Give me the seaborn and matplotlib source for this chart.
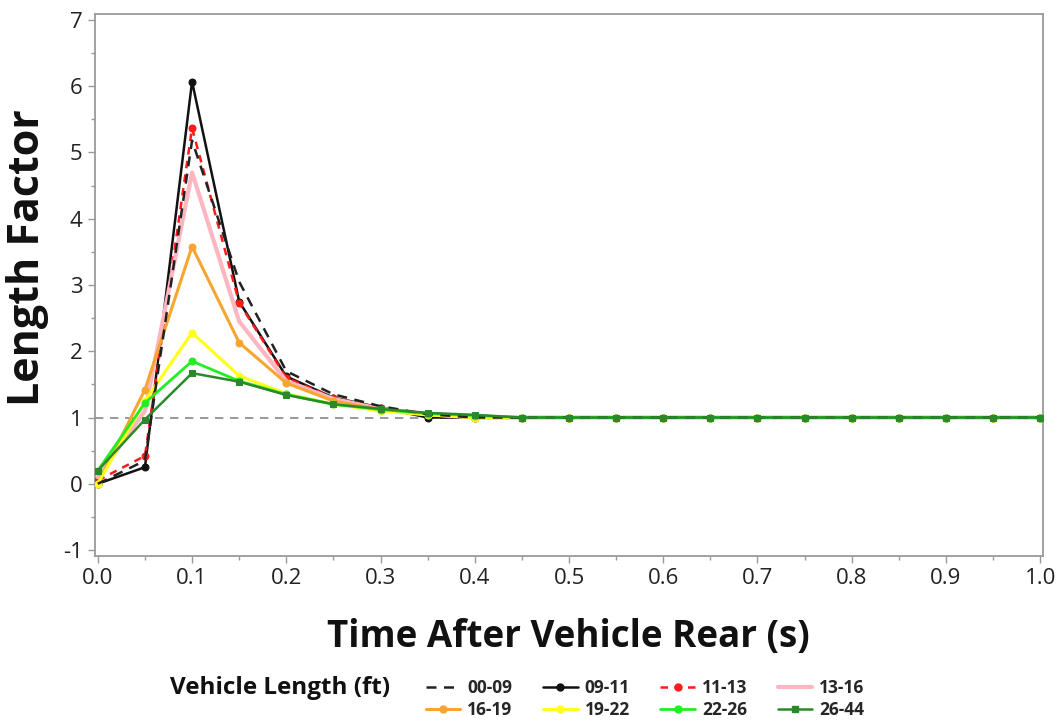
import numpy as np
import pandas as pd
import seaborn as sns
import matplotlib
matplotlib.use("Agg")
import matplotlib.pyplot as plt
from matplotlib.ticker import MultipleLocator
from matplotlib.lines import Line2D

# ---- data ----
time_s = [0.0, 0.05, 0.1, 0.15, 0.2, 0.25, 0.3, 0.35, 0.4, 0.45, 0.5,
          0.55, 0.6, 0.65, 0.7, 0.75, 0.8, 0.85, 0.9, 0.95, 1.0]
tail = [1.0] * 12
lf_00_09 = [0.0, 0.35, 5.18, 3.05, 1.70, 1.35, 1.17, 1.05, 1.00] + tail
lf_09_11 = [0.0, 0.25, 6.07, 2.75, 1.62, 1.30, 1.15, 1.00, 1.00] + tail
lf_11_13 = [0.05, 0.42, 5.37, 2.73, 1.60, 1.30, 1.15, 1.05, 1.00] + tail
lf_13_16 = [0.10, 1.10, 4.70, 2.45, 1.55, 1.28, 1.13, 1.05, 1.00] + tail
lf_16_19 = [0.0, 1.42, 3.58, 2.13, 1.52, 1.25, 1.12, 1.05, 1.00] + tail
lf_19_22 = [0.0, 1.25, 2.28, 1.63, 1.36, 1.20, 1.10, 1.04, 1.00] + tail
lf_22_26 = [0.20, 1.22, 1.85, 1.55, 1.35, 1.20, 1.12, 1.06, 1.03] + tail
lf_26_44 = [0.20, 0.97, 1.67, 1.54, 1.34, 1.20, 1.13, 1.07, 1.04] + tail

groups = ["00-09", "09-11", "11-13", "13-16", "16-19", "19-22", "22-26", "26-44"]
values = [lf_00_09, lf_09_11, lf_11_13, lf_13_16, lf_16_19, lf_19_22, lf_22_26, lf_26_44]

df = pd.DataFrame({
    "time": np.tile(time_s, len(groups)),
    "lf": np.concatenate(values),
    "group": np.repeat(groups, len(time_s)),
})

# ---- styles ----
styles = {
    "00-09": dict(color="#222222", ls=(0, (4, 3)), marker=None, lw=1.8, ms=0, z=4),
    "09-11": dict(color="#111111", ls="-", marker="o", lw=1.8, ms=5, z=3),
    "11-13": dict(color="#ff1a1a", ls=(0, (3, 2.5)), marker="o", lw=1.8, ms=5, z=3),
    "13-16": dict(color="#ffb6c1", ls="-", marker=None, lw=3.0, ms=0, z=3),
    "16-19": dict(color="#f7a531", ls="-", marker="o", lw=2.2, ms=5, z=3),
    "19-22": dict(color="#ffff1a", ls="-", marker="o", lw=2.2, ms=5, z=3),
    "22-26": dict(color="#22ee22", ls="-", marker="o", lw=2.0, ms=5, z=3),
    "26-44": dict(color="#2a8a2a", ls="-", marker="s", lw=1.8, ms=5, z=5),
}

sns.set_theme(style="white")
plt.rcParams["font.family"] = ["Open Sans", "DejaVu Sans"]
plt.rcParams["axes.unicode_minus"] = False

fig = plt.figure(figsize=(10.57, 7.23), dpi=100)
ax = fig.add_axes([95 / 1057, 1 - 556 / 723, (1043 - 95) / 1057, (556 - 14) / 723])

ax.axhline(1.0, color="#888888", ls=(0, (5, 4)), lw=1.2, zorder=1)

handles = {}
for g in groups:
    st = styles[g]
    sub = df[df["group"] == g]
    sns.lineplot(data=sub, x="time", y="lf", ax=ax, color=st["color"],
                 linestyle=st["ls"], linewidth=st["lw"],
                 marker=st["marker"], markersize=st["ms"],
                 markeredgecolor=st["color"], markerfacecolor=st["color"],
                 legend=False, zorder=st["z"])
    handles[g] = Line2D([0], [0], color=st["color"], linestyle=st["ls"],
                        linewidth=st["lw"], marker=st["marker"],
                        markersize=st["ms"], markerfacecolor=st["color"],
                        markeredgecolor=st["color"], label=g)

ax.set_xlim(-0.003, 1.003)
ax.set_ylim(-1.09, 7.09)
ax.xaxis.set_major_locator(MultipleLocator(0.1))
ax.xaxis.set_minor_locator(MultipleLocator(0.05))
ax.yaxis.set_major_locator(MultipleLocator(1))
ax.yaxis.set_minor_locator(MultipleLocator(0.5))
ax.set_xticklabels([f"{v:.1f}" for v in ax.get_xticks()])
ax.tick_params(axis="both", which="major", direction="out", length=5, width=1,
               color="#999999", labelsize=16, labelcolor="#222222", pad=4)
ax.tick_params(axis="both", which="minor", direction="out", length=3, width=1,
               color="#999999")
ax.tick_params(axis="x", which="both", bottom=True)
ax.tick_params(axis="y", which="both", left=True)
for sp in ax.spines.values():
    sp.set_color("#9a9a9a")
    sp.set_linewidth(1.3)

ax.set_xlabel("Time After Vehicle Rear (s)", fontsize=26.5, fontweight="bold",
              color="#111111")
ax.xaxis.set_label_coords((568 - 95) / 948, -(637 - 556) / 542)
ax.xaxis.label.set_va("center")
ax.set_ylabel("Length Factor", fontsize=31, fontweight="bold", color="#111111")
ax.yaxis.set_label_coords(-(95 - 28) / 948, (556 - 258) / 542)
ax.yaxis.label.set_va("center")

fig.text(170 / 1057, 1 - 688 / 723, "Vehicle Length (ft)", fontsize=17.5,
         fontweight="bold", va="center", ha="left", color="#111111")

# row-major ordering for a 4-column legend (matplotlib fills column-wise)
order = ["00-09", "16-19", "09-11", "19-22", "11-13", "22-26", "13-16", "26-44"]
leg = fig.legend(handles=[handles[g] for g in order], loc="center left", ncol=4,
                 bbox_to_anchor=(410 / 1057, 1 - 699 / 723), frameon=False,
                 prop=dict(size=12.5, weight="bold"),
                 handlelength=2.0, handletextpad=0.4, columnspacing=1.75,
                 labelspacing=0.2)

fig.savefig("out.png", dpi=100)
